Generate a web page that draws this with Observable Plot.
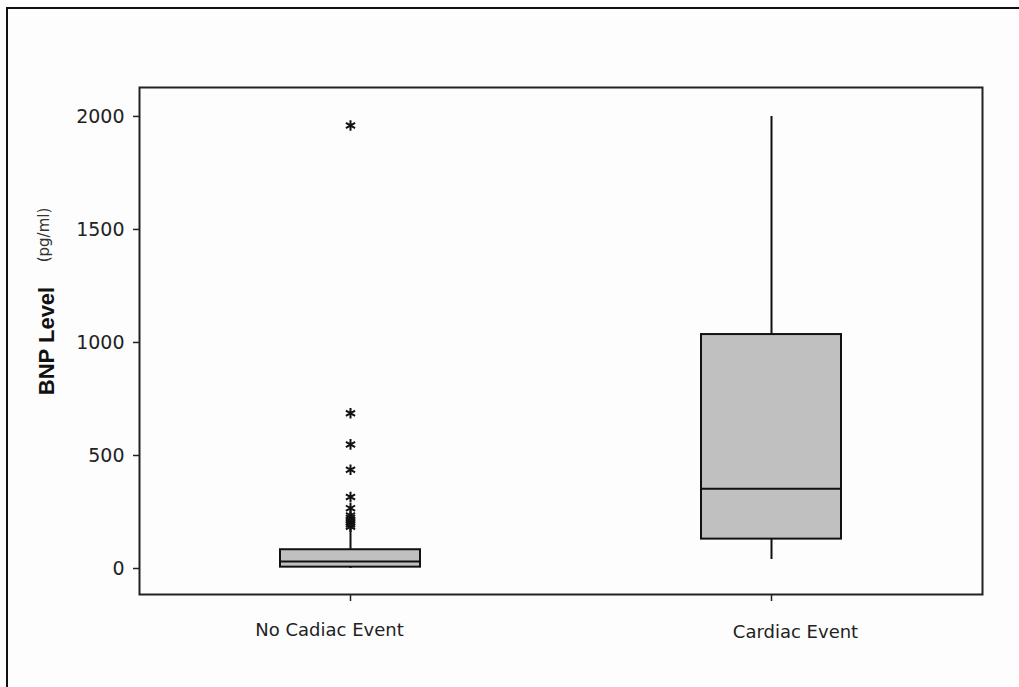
<!DOCTYPE html>
<html>
<head>
<meta charset="utf-8">
<script src="https://cdn.jsdelivr.net/npm/d3@7"></script>
<script src="https://cdn.jsdelivr.net/npm/@observablehq/plot@0.6"></script>
<style>
  html, body { margin: 0; padding: 0; background: #fdfdfd; }
  #wrap { position: relative; width: 1019px; height: 687px; overflow: hidden; }
  #border { position: absolute; left: 6px; top: 7px; width: 1020px; height: 690px;
            border-top: 2px solid #111; border-left: 2px solid #111; pointer-events: none; }
</style>
</head>
<body>
<div id="wrap"><div id="chart"></div><div id="border"></div></div>
<script>
// Categories and box statistics (pg/ml)
const categories = ["No Cadiac Event", "Cardiac Event"];
const q1Values     = [6, 130];
const medianValues = [31, 353];
const q3Values     = [83, 1035];
const whiskerLow   = [0, 40];
const whiskerHigh  = [172, 2000];
// Outliers (only the "No Cadiac Event" group has them)
const outlierValues = [1960, 687, 549, 437, 316, 267, 235, 225, 215, 205, 195, 185];
const yTicks = [0, 500, 1000, 1500, 2000];

const boxes = categories.map((c, i) => ({
  cat: c, q1: q1Values[i], med: medianValues[i], q3: q3Values[i],
  lo: whiskerLow[i], hi: whiskerHigh[i]
}));
const outliers = outlierValues.map(v => ({cat: categories[0], v}));

const font = "DejaVu Sans";
const chart = Plot.plot({
  width: 1019,
  height: 687,
  marginLeft: 139,
  marginRight: 37,
  marginTop: 87,
  marginBottom: 93,
  style: {fontFamily: font, background: "transparent", color: "#222", overflow: "visible"},
  x: {domain: categories, paddingInner: 0.668, paddingOuter: 0.334},
  y: {domain: [-115, 2128]},
  marks: [
    Plot.ruleX(boxes, {x: "cat", y1: "lo", y2: "hi", stroke: "#111", strokeWidth: 2}),
    Plot.barY(boxes, {x: "cat", y1: "q1", y2: "q3", fill: "#c0c0c0", stroke: "#111", strokeWidth: 2}),
    Plot.tickY(boxes, {x: "cat", y: "med", stroke: "#111", strokeWidth: 2}),
    Plot.dot(outliers, {x: "cat", y: "v", symbol: "asterisk", r: 5, stroke: "#111", strokeWidth: 2}),
    Plot.frame({stroke: "#222", strokeWidth: 2}),
    Plot.axisY({ticks: yTicks, tickFormat: d3.format("d"), tickSize: 6, tickPadding: 9, fontSize: 19, label: null, stroke: "#222", strokeWidth: 1.5}),
    Plot.axisX({tickSize: 7, tickFormat: () => "", label: null, stroke: "#222", strokeWidth: 1.5}),
    Plot.text([categories[0]], {x: d => d, frameAnchor: "bottom", dy: 41, dx: -21, fontSize: 18, fill: "#222"}),
    Plot.text([categories[1]], {x: d => d, frameAnchor: "bottom", dy: 43, dx: 24, fontSize: 18, fill: "#222"}),
    Plot.text(["BNP Level"], {frameAnchor: "left", dx: -92.5, dy: 0, rotate: -90, textAnchor: "middle",
      fontSize: 22, fontWeight: "bold", fontFamily: "Liberation Sans", fill: "#111"}),
    Plot.text(["(pg/ml)"], {frameAnchor: "left", dx: -95, dy: -106, rotate: -90, textAnchor: "middle",
      fontSize: 15, fill: "#333"})
  ]
});
document.getElementById("chart").appendChild(chart);
</script>
</body>
</html>
